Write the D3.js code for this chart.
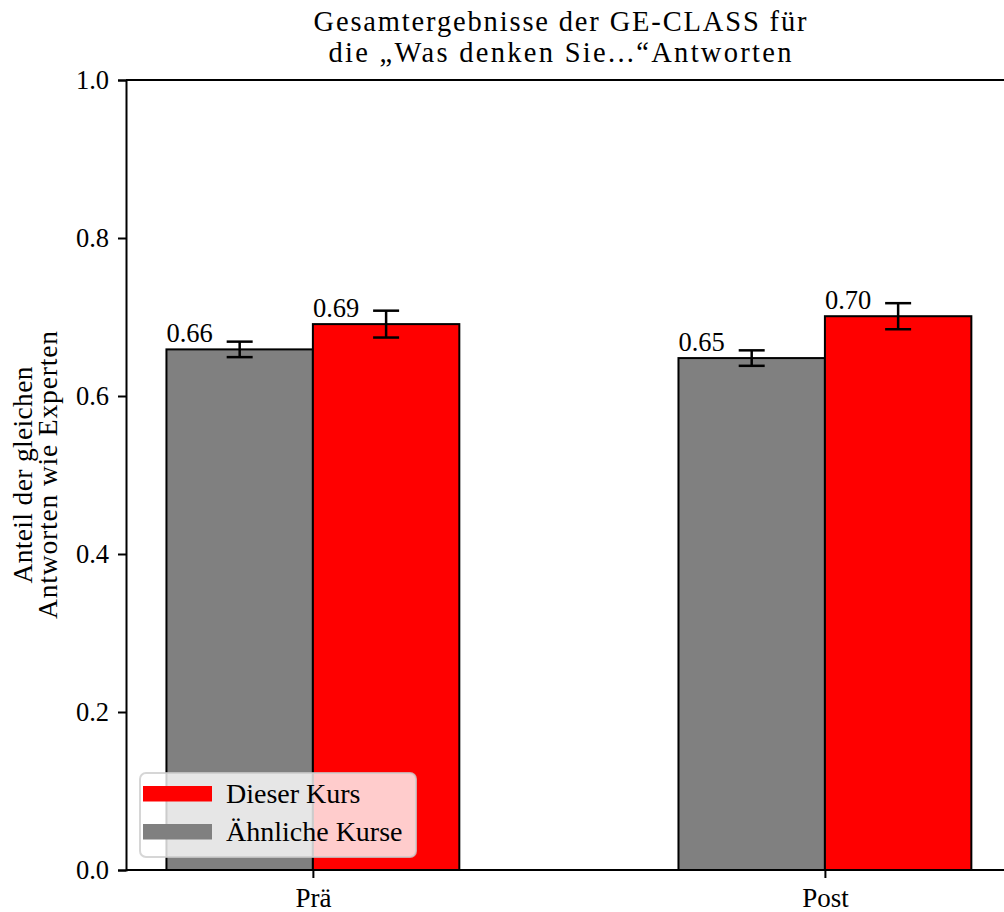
<!DOCTYPE html>
<head>
<meta charset="utf-8">
<title>GE-CLASS</title>
<script src="https://cdn.jsdelivr.net/npm/d3@7"></script>
<style>
body { margin: 0; background: #fff; }
text { font-family: "Liberation Serif", "DejaVu Serif", serif; fill: #000; }
</style>
</head>
<body>
<div id="chart"></div>
<script>
// data
var categories = ["Prä", "Post"];
var seriesNames = ["Ähnliche Kurse", "Dieser Kurs"];
var seriesColors = ["#808080", "#ff0000"];
var similarValues = [0.659, 0.648];
var similarErrors = [0.0098, 0.0098];
var thisValues = [0.691, 0.701];
var thisErrors = [0.017, 0.0165];
var yTicks = [0.0, 0.2, 0.4, 0.6, 0.8, 1.0];
var titleLines = ["Gesamtergebnisse der GE-CLASS für", "die „Was denken Sie...“Antworten"];
var yLabelLines = ["Anteil der gleichen", "Antworten wie Experten"];

var W = 1004, H = 912;
var barWidth = 0.286;

var svg = d3.select("#chart").append("svg")
    .attr("width", W)
    .attr("height", H);

// scales
var x = d3.scaleLinear().domain([-0.365, 1.365]).range([126, 1011.8]);
var y = d3.scaleLinear().domain([0, 1]).range([870, 80]);

var series = [
  { name: seriesNames[0], color: seriesColors[0], values: similarValues, errors: similarErrors, offset: -barWidth / 2 },
  { name: seriesNames[1], color: seriesColors[1], values: thisValues, errors: thisErrors, offset: barWidth / 2 }
];

// bars
series.forEach(function(s) {
  var g = svg.append("g");
  categories.forEach(function(c, i) {
    var cx = i + s.offset;
    var v = s.values[i];
    g.append("rect")
      .attr("x", x(cx - barWidth / 2))
      .attr("y", y(v))
      .attr("width", x(cx + barWidth / 2) - x(cx - barWidth / 2))
      .attr("height", y(0) - y(v))
      .attr("fill", s.color)
      .attr("stroke", "#000")
      .attr("stroke-width", 2);
  });
});

// error bars
series.forEach(function(s) {
  categories.forEach(function(c, i) {
    var px = x(i + s.offset);
    var v = s.values[i], e = s.errors[i];
    svg.append("line")
      .attr("x1", px).attr("x2", px)
      .attr("y1", y(v - e)).attr("y2", y(v + e))
      .attr("stroke", "#000").attr("stroke-width", 2.5);
    [v - e, v + e].forEach(function(t) {
      svg.append("line")
        .attr("x1", px - 13).attr("x2", px + 13)
        .attr("y1", y(t)).attr("y2", y(t))
        .attr("stroke", "#000").attr("stroke-width", 2.5);
    });
  });
});

// value labels
series.forEach(function(s) {
  categories.forEach(function(c, i) {
    svg.append("text")
      .attr("x", x(i + s.offset - barWidth / 2))
      .attr("y", y(s.values[i]) - 7)
      .style("font-size", "26.5px")
      .text(s.values[i].toFixed(2));
  });
});

// axes
var yAxis = d3.axisLeft(y).tickValues(yTicks).tickFormat(d3.format(".1f")).tickSize(8).tickPadding(9);
var gy = svg.append("g").attr("transform", "translate(" + x.range()[0] + ",0)").call(yAxis);
gy.select(".domain").attr("stroke-width", 2);
gy.selectAll(".tick line").attr("stroke-width", 2);
gy.selectAll(".tick text").style("font-size", "26.5px").style("font-family", "Liberation Serif");

var xAxis = d3.axisBottom(x).tickValues([0, 1]).tickFormat(function(d) { return categories[d]; }).tickSize(8).tickPadding(10);
var gx = svg.append("g").attr("transform", "translate(0," + y(0) + ")").call(xAxis);
gx.select(".domain").attr("stroke-width", 2).attr("d", "M" + x.range()[0] + ",0H" + x.range()[1]);
gx.selectAll(".tick line").attr("stroke-width", 2);
gx.selectAll(".tick text").style("font-size", "27px").style("font-family", "Liberation Serif");

// top spine
svg.append("line")
  .attr("x1", x.range()[0]).attr("x2", x.range()[1])
  .attr("y1", y(1)).attr("y2", y(1))
  .attr("stroke", "#000").attr("stroke-width", 2);

// title (computer modern is wider than the serif we have, so stretch a little)
var titleWidths = [493, 463];
titleLines.forEach(function(t, i) {
  svg.append("text")
    .attr("x", 560)
    .attr("y", 31 + i * 31)
    .attr("text-anchor", "middle")
    .attr("textLength", titleWidths[i])
    .attr("lengthAdjust", "spacing")
    .style("font-size", "28.5px")
    .text(t);
});

// y label
var yl = svg.append("g").attr("transform", "translate(32," + (y(0) + y(1)) / 2 + ") rotate(-90)");
var yLabelWidths = [217, 288];
yLabelLines.forEach(function(t, i) {
  yl.append("text")
    .attr("x", 0)
    .attr("y", i * 25)
    .attr("text-anchor", "middle")
    .attr("textLength", yLabelWidths[i])
    .attr("lengthAdjust", "spacing")
    .style("font-size", "27.5px")
    .text(t);
});

// legend
var lg = svg.append("g").attr("transform", "translate(140,773)");
lg.append("rect")
  .attr("width", 276).attr("height", 84)
  .attr("rx", 6)
  .attr("fill", "#fff").attr("fill-opacity", 0.8)
  .attr("stroke", "#cccccc").attr("stroke-opacity", 0.8).attr("stroke-width", 2);
[series[1], series[0]].forEach(function(s, i) {
  lg.append("rect")
    .attr("x", 3).attr("y", 13 + i * 38)
    .attr("width", 69).attr("height", 15.5)
    .attr("fill", s.color);
  lg.append("text")
    .attr("x", 86).attr("y", 30 + i * 38)
    .style("font-size", "28px")
    .text(s.name);
});
</script>
</body>
